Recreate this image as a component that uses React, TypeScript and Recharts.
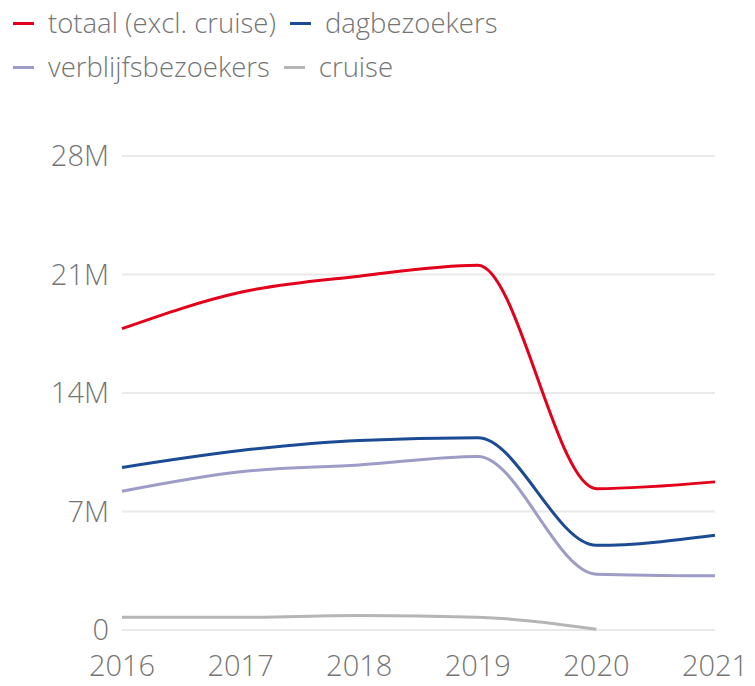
import React from "react";
import { LineChart, Line, XAxis, YAxis, CartesianGrid } from "recharts";

const years = ["2016", "2017", "2018", "2019", "2020", "2021"];
const totaal = [17.8, 19.95, 20.9, 21.55, 8.35, 8.75];
const dagbezoekers = [9.6, 10.6, 11.2, 11.35, 5.0, 5.6];
const verblijfsbezoekers = [8.2, 9.35, 9.75, 10.25, 3.3, 3.2];
const cruise = [0.75, 0.75, 0.85, 0.75, 0.05, null];
const yTicks = [0, 7, 14, 21, 28];

const seriesNames = ["totaal (excl. cruise)", "dagbezoekers", "verblijfsbezoekers", "cruise"];
const seriesKeys = ["totaal", "dag", "verblijf", "cruise"];
const seriesColors = ["#e2001a", "#1b4b93", "#9c9cc6", "#b5b5b5"];

const data = years.map((y, i) => ({
  year: y,
  totaal: totaal[i],
  dag: dagbezoekers[i],
  verblijf: verblijfsbezoekers[i],
  cruise: cruise[i],
}));

const font = "'Open Sans', 'Noto Sans', sans-serif";
const textColor = "#757575";

function LegendItem({ name, color }: { name: string; color: string }) {
  return (
    <div style={{ display: "flex", alignItems: "center", marginRight: 14, height: 44 }}>
      <div style={{ width: 21, height: 3, background: color, marginRight: 14 }} />
      <span
        style={{
          fontSize: 27.5,
          fontWeight: 300,
          color: textColor,
          fontFamily: font,
          whiteSpace: "nowrap",
          lineHeight: "44px",
        }}
      >
        {name}
      </span>
    </div>
  );
}

export default function App() {
  return (
    <div style={{ position: "absolute", left: 0, top: 0, width: 755, height: 686, background: "#fff" }}>
      <div
        style={{
          position: "absolute",
          left: 13,
          top: 1,
          width: 680,
          display: "flex",
          flexWrap: "wrap",
        }}
      >
        <LegendItem name={seriesNames[0]} color={seriesColors[0]} />
        <LegendItem name={seriesNames[1]} color={seriesColors[1]} />
        <div style={{ flexBasis: "100%", height: 0 }} />
        <LegendItem name={seriesNames[2]} color={seriesColors[2]} />
        <LegendItem name={seriesNames[3]} color={seriesColors[3]} />
      </div>
      <LineChart
        width={755}
        height={686}
        data={data}
        margin={{ top: 156, right: 40, bottom: 0, left: 0 }}
      >
        <CartesianGrid vertical={false} stroke="#e9e9e9" strokeWidth={2} />
        <XAxis
          dataKey="year"
          axisLine={false}
          tickLine={false}
          height={56}
          tickMargin={19}
          tick={{ fill: textColor, fontSize: 29, fontFamily: font, fontWeight: 300 }}
          interval={0}
        />
        <YAxis
          width={122}
          domain={[0, 28]}
          ticks={yTicks}
          axisLine={false}
          tickLine={false}
          tickMargin={7}
          tickFormatter={(v: number) => (v === 0 ? "0" : `${v}M`)}
          tick={{ fill: textColor, fontSize: 29, fontFamily: font, fontWeight: 300 }}
        />
        {seriesKeys.map((k, i) => (
          <Line
            key={k}
            type="monotone"
            dataKey={k}
            name={seriesNames[i]}
            stroke={seriesColors[i]}
            strokeWidth={3}
            dot={false}
            activeDot={false}
            isAnimationActive={false}
          />
        ))}
      </LineChart>
    </div>
  );
}
